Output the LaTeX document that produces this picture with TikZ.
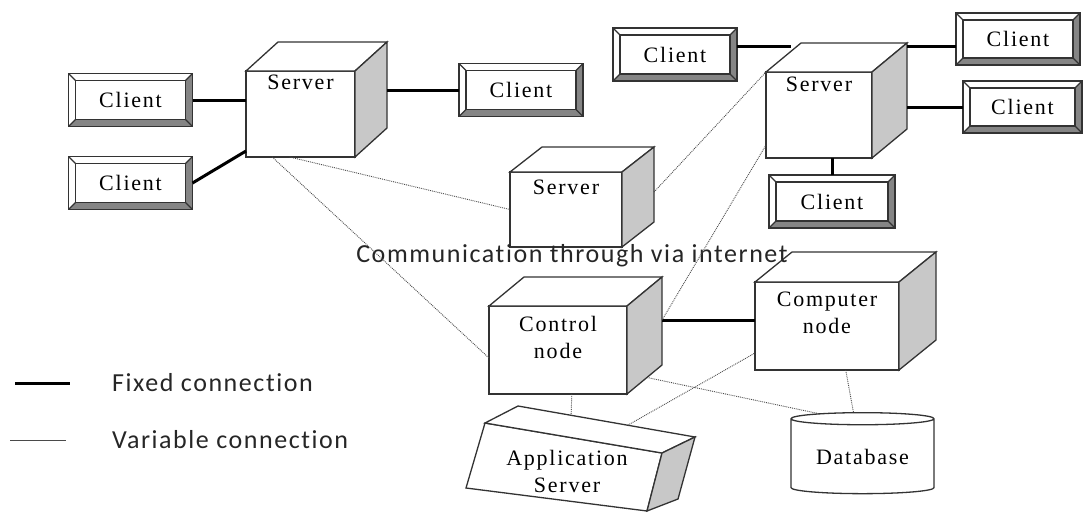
\documentclass[tikz,border=0pt]{standalone}
\usepackage{fontspec}
\newfontfamily\boxfont{Liberation Serif}[LetterSpace=8.0]
\newfontfamily\notefont{Carlito}[LetterSpace=6.0, Ligatures=NoCommon]
\usepackage{tikz}
\usetikzlibrary{calc,positioning,shapes.geometric}

\definecolor{edgegray}{HTML}{333333}
\definecolor{sidegray}{HTML}{C8C8C8}
\definecolor{bevelgray}{HTML}{858585}
\definecolor{wiregray}{HTML}{4A4A4A}

% depth faces of a box node: node, dx, dy
\newcommand{\cubesides}[3]{%
  \coordinate (#1-bnw) at ($(#1.north west)+(#2,#3)$);
  \coordinate (#1-bne) at ($(#1.north east)+(#2,#3)$);
  \coordinate (#1-bse) at ($(#1.south east)+(#2,#3)$);
  \draw[boxline, fill=white] (#1.north west) -- (#1-bnw) -- (#1-bne) -- (#1.north east) -- cycle;
  \draw[boxline, fill=sidegray] (#1.north east) -- (#1-bne) -- (#1-bse) -- (#1.south east) -- cycle;
}
% raised frame round a client node
\newcommand{\bevel}[1]{%
  \fill[bevelgray] (#1.south west) -- (#1.south east) -- (#1.north east) -- ([shift={(-7pt,-7pt)}]#1.north east) -- ([shift={(-7pt,7pt)}]#1.south east) -- ([shift={(7pt,7pt)}]#1.south west) -- cycle;
  \draw[boxline] (#1.south west) rectangle (#1.north east) ([shift={(7pt,7pt)}]#1.south west) rectangle ([shift={(-7pt,-7pt)}]#1.north east);
  \draw[boxline] (#1.north west) -- ++(7pt,-7pt) (#1.south west) -- ++(7pt,7pt) (#1.north east) -- ++(-7pt,-7pt) (#1.south east) -- ++(-7pt,7pt);
}

\begin{document}
\begin{tikzpicture}[x=1pt, y=-1pt,
  boxline/.style={draw=edgegray, line width=1.3pt},
  cube/.style={boxline, fill=white, rectangle, inner sep=0pt, outer sep=0pt},
  client/.style={rectangle, inner sep=0pt, outer sep=0pt, minimum width=124pt, minimum height=53pt, font=\boxfont\fontsize{22}{27}\selectfont},
  lbl/.style={inner sep=0pt, align=center, font=\boxfont\fontsize{22}{27}\selectfont},
  note/.style={inner sep=0pt, text=black!85, font=\notefont\fontsize{26}{30}\selectfont},
  fixwire/.style={black, line width=3pt},
  varwire/.style={wiregray, line width=0.9pt, densely dotted}]
\useasboundingbox (0,0) rectangle (1083,514);

\node[cube, minimum width=109pt, minimum height=86pt] (s1) at (300.5,114) {}; \cubesides{s1}{32}{-29}; \node[lbl, below=4pt of s1.north] (s1t) {Server};
\node[cube, minimum width=106pt, minimum height=86pt] (s2) at (819,115) {}; \cubesides{s2}{35}{-29}; \node[lbl, below=5pt of s2.north] (s2t) {Server};
\node[cube, minimum width=112pt, minimum height=75pt] (s3) at (566,209.5) {}; \cubesides{s3}{32}{-25}; \node[lbl, below=8pt of s3.north] (s3t) {Server};
\node[cube, minimum width=138pt, minimum height=88pt] (ctl) at (558,350) {}; \cubesides{ctl}{35}{-29}; \node[lbl, below=10pt of ctl.north] (ctlt) {Control\\node};
\node[cube, minimum width=144pt, minimum height=88pt] (cmp) at (827,326) {}; \cubesides{cmp}{37}{-30}; \node[lbl, below=10pt of cmp.north] (cmpt) {Computer\\node};
\coordinate (s2-lt) at ($(s2.north west)!0.7!(s2-bnw)$);

\node[client] (c1) at (130.5,100) {}; \bevel{c1}; \node[client] at (c1) {Client};
\node[client] (c2) at (130.5,183) {}; \bevel{c2}; \node[client] at (c2) {Client};
\node[client] (c3) at (521,90) {}; \bevel{c3}; \node[client] at (c3) {Client};
\node[client] (c4) at (675,54.5) {}; \bevel{c4}; \node[client] at (c4) {Client};
\node[client, minimum height=52pt] (c5) at (1018,39) {}; \bevel{c5}; \node[client] at (c5) {Client};
\node[client, minimum width=119pt, minimum height=52pt] (c6) at (1022.5,107) {}; \bevel{c6}; \node[client] at (c6) {Client};
\node[client, minimum width=126pt] (c7) at (832,201.5) {}; \bevel{c7}; \node[client] at (c7) {Client};

\coordinate (a1) at (485,423); \coordinate (a2) at (662,453); \coordinate (a3) at (647,511); \coordinate (a4) at (466,488);
\coordinate (a5) at (518,406); \coordinate (a6) at (695,437); \coordinate (a7) at (678,499);
\draw[boxline, fill=white] (a4) -- (a1) -- (a2) -- (a3) -- cycle;
\draw[boxline, fill=white] (a1) -- (a5) -- (a6) -- (a2) -- cycle;
\draw[boxline, fill=sidegray] (a2) -- (a6) -- (a7) -- (a3) -- cycle;
\node[lbl] (app) at (567,471) {Application\\Server};

\node[boxline, fill=white, cylinder, shape border rotate=90, aspect=0.13, minimum width=143pt, minimum height=81pt, inner sep=0pt, outer sep=0pt, font=\boxfont\fontsize{22}{27}\selectfont] (db) at (862.5,456.5) {Database};

\node[note] (inet) at (572,256) {Communication through via internet};

\draw[fixwire] (c1.east) -- (c1.east -| s1.west); \draw[fixwire] (c2.east) -- ([yshift=6pt]s1.south west); \draw[fixwire] (c3.west -| s1-bne) -- (c3.west);
\draw[fixwire] ([yshift=8pt]c4.east) -- ([yshift=8pt]c4.east -| s2-lt); \draw[fixwire] ([yshift=-3pt]s2-bne) -- ([yshift=-3pt]s2-bne -| c5.west); \draw[fixwire] (c6.west -| s2-bne) -- (c6.west);
\draw[fixwire] (c7.north |- s2.south) -- (c7.north); \draw[fixwire] ([yshift=6pt]cmp.west -| ctl-bne) -- ([yshift=6pt]cmp.west);

\draw[varwire] ($(s1.south west)!0.24!(s1.south east)$) -- ([yshift=-8pt]ctl.west);
\draw[varwire] ($(s1.south west)!0.4!(s1.south east)$) -- (s3.west);
\draw[varwire] ($(s3-bne)!0.6!(s3-bse)$) -- (s2.north west);
\draw[varwire] ($(ctl-bne)!0.49!(ctl-bse)$) -- ([yshift=-30pt]s2.west);
\draw[varwire] ($(s3.south west)!0.54!(s3.south east)$) -- ($(s3.south west)!0.54!(s3.south east)$ |- ctl-bnw);
\draw[varwire] ($(ctl.south west)!0.6!(ctl.south east)$) -- ($(a5)!0.3!(a6)$);
\draw[varwire] ($(a5)!0.62!(a6)$) -- ([yshift=-27pt]cmp.west);
\draw[varwire] ($(ctl.south east)!0.57!(ctl-bse)$) -- (db.north west);
\draw[varwire] ($(cmp.south west)!0.63!(cmp.south east)$) -- ([xshift=-9pt]db.north);

\coordinate (fx0) at (15,383); \coordinate (fx1) at (70,383); \draw[fixwire] (fx0) -- (fx1); \node[note, anchor=west] (fxt) at (112,383) {Fixed connection};
\coordinate (vr0) at (10,440); \coordinate (vr1) at (66,440); \draw[wiregray, line width=0.8pt] (vr0) -- (vr1); \node[note, anchor=west] (vrt) at (112,440) {Variable connection};
\end{tikzpicture}
\end{document}
